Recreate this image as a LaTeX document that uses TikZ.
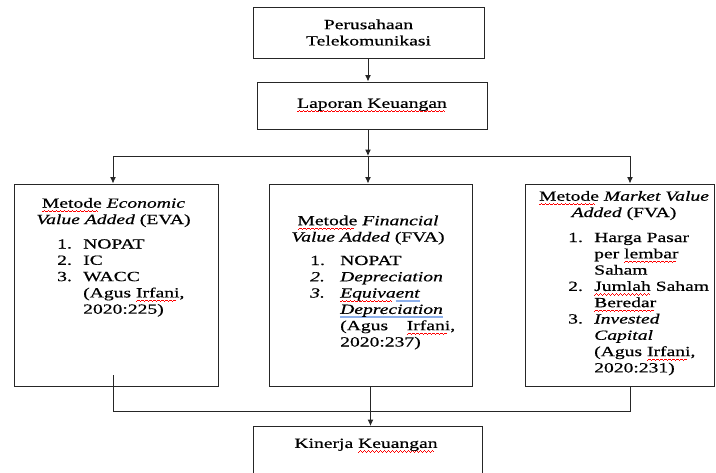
\documentclass[tikz,border=0pt]{standalone}
\usepackage{fontspec}
\setmainfont{Liberation Serif}[FakeStretch=1.4,FakeBold=0.6]
\usetikzlibrary{arrows.meta}

\definecolor{garisbiru}{RGB}{140,175,235}
% garis bergelombang merah (ejaan) dan garis biru (tata bahasa)
\newsavebox\gelombang
\newbox\katabox
\newcommand\salah[1]{\setbox\katabox\hbox{#1}\rlap{\leaders\copy\gelombang\hskip\wd\katabox}\box\katabox}
\newcommand\biru[1]{\setbox\katabox\hbox{#1}\rlap{\textcolor{garisbiru}{\rule[-4pt]{\wd\katabox}{1.6pt}}}\box\katabox}

\begin{document}
\sbox\gelombang{\color{red}\rule[-4.4pt]{1pt}{0.8pt}\rule[-3.8pt]{1pt}{0.8pt}\rule[-3.2pt]{1pt}{0.8pt}\rule[-3.8pt]{1pt}{0.8pt}}
\begin{tikzpicture}[x=1pt,y=-1pt,
  every node/.style={font=\fontsize{14}{16.3}\selectfont},
  kotak/.style={draw=black!85,line width=1pt,inner sep=0pt},
  teks/.style={inner sep=0pt},
  judul/.style={teks,align=center},
  daftar/.style={teks,anchor=base west},
  garis/.style={draw=black!85,line width=1pt},
  panah/.style={garis,-{Latex[length=6.5pt,width=6pt]}}]
  \useasboundingbox (0,0) rectangle (716,472);
  \clip (0,0) rectangle (716,472);

  % kotak atas
  \node[kotak,minimum width=231pt,minimum height=51pt,align=center] (perusahaan) at (368.5,32.5) {Perusahaan\\Telekomunikasi};
  \node[kotak,minimum width=230pt,minimum height=47pt] (laporan) at (372,105.5) {\salah{Laporan Keuangan}};

  % tiga metode
  \node[kotak,minimum width=204pt,minimum height=202pt] (eva) at (116,285) {};
  \node[kotak,minimum width=203pt,minimum height=202pt] (fva) at (370.5,285) {};
  \node[kotak,minimum width=189pt,minimum height=202pt] (mva) at (619.5,285) {};
  \node[kotak,minimum width=229pt,minimum height=56pt,anchor=north] (kinerja) at (367.5,426) {};

  \node[judul] (evajudul) at (113.5,212.5) {\salah{Metode} \emph{Economic}\\\emph{Value Added} (EVA)};
  \node[daftar] (evadaftar) at (57,248.5) {\begin{tabular}[t]{@{}p{26pt}@{}l@{}}
    1. & NOPAT\\
    2. & IC\\
    3. & WACC\\
       & (Agus \salah{Irfani},\\
       & 2020:225)
  \end{tabular}};

  \node[judul] (fvajudul) at (368,230) {\salah{Metode} \emph{Financial}\\\emph{Value Added} (FVA)};
  \node[daftar] (fvadaftar) at (310,265) {\begin{tabular}[t]{@{}p{30pt}@{}l@{}}
    1. & NOPAT\\
    \emph{2.} & \emph{Depreciation}\\
    \emph{3.} & \emph{\salah{Equiva}\biru{ent}}\\
       & \emph{\biru{Depreciation}}\\
       & \makebox[115pt][l]{(Agus\hfill\salah{Irfani},}\\
       & 2020:237)
  \end{tabular}};

  \node[judul] (mvajudul) at (624,205.5) {\salah{Metode} \emph{Market Value}\\\emph{Added} (FVA)};
  \node[daftar] (mvadaftar) at (568,242) {\begin{tabular}[t]{@{}p{26pt}@{}l@{}}
    1. & Harga Pasar\\
       & per \salah{lembar}\\
       & Saham\\
    2. & \salah{Jumlah} Saham\\
       & \salah{Beredar}\\
    3. & \emph{Invested}\\
       & \emph{Capital}\\
       & (Agus \salah{Irfani},\\
       & 2020:231)
  \end{tabular}};

  \node[teks] (kinerjateks) at (366,445.5) {Kinerja \salah{Keuangan}};

  % penghubung atas
  \coordinate (bus) at (368,156);
  \coordinate (busl) at (113,156);
  \coordinate (busr) at (630,156);
  \draw[panah] (perusahaan.south -| bus) -- (laporan.north -| bus);
  \draw[panah] (laporan.south -| bus) -- (bus);
  \draw[garis] (busl) -- (busr);
  \foreach \p/\b in {busl/eva,bus/fva,busr/mva}
    \draw[panah] (\p) -- (\p |- \b.north);

  % penghubung bawah
  \coordinate (evaujung) at (113,375);
  \coordinate (gabl) at (113,411);
  \coordinate (gabr) at (630,411);
  \draw[garis] (evaujung) -- (gabl) -- (gabr) -- (gabr |- mva.south);
  \draw[panah] (fva.south) -- (fva.south |- kinerja.north);
\end{tikzpicture}
\end{document}
